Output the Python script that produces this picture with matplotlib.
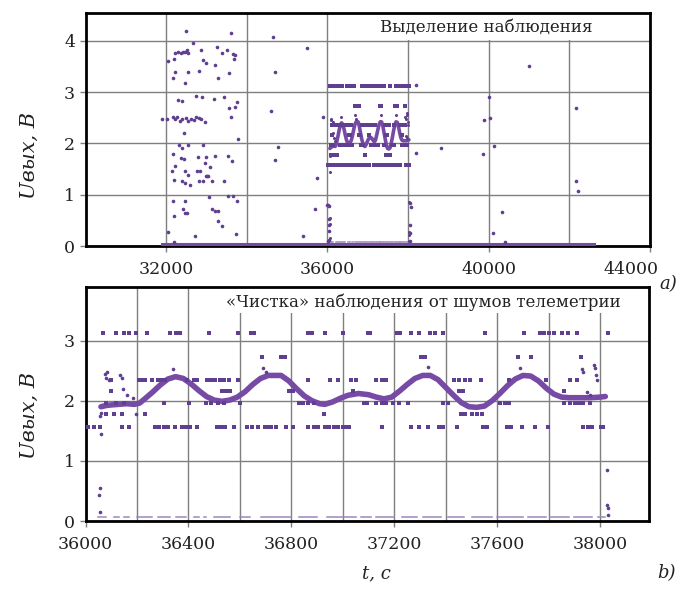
import matplotlib
matplotlib.use("Agg")
import matplotlib.pyplot as plt
from matplotlib.patches import Rectangle
from matplotlib.transforms import ScaledTranslation
import numpy as np

# --- cleaned observation window, 36000..38200 s -------------------------
# smooth signal (the dense band)
curve_t = [36060, 36080, 36100, 36130, 36160, 36190, 36210, 36230, 36260, 36290,
           36320, 36350, 36380, 36410, 36440, 36470, 36500, 36530, 36560, 36590,
           36620, 36650, 36680, 36710, 36740, 36760, 36790, 36820, 36850, 36880,
           36910, 36930, 36960, 36990, 37020, 37060, 37100, 37130, 37160, 37190,
           37220, 37250, 37280, 37310, 37340, 37370, 37400, 37430, 37460, 37490,
           37520, 37550, 37580, 37610, 37640, 37670, 37700, 37730, 37760, 37790,
           37820, 37850, 37880, 37920, 37960, 38000, 38020]
curve_u = [1.90, 1.92, 1.93, 1.94, 1.95, 1.94, 1.96, 2.03, 2.14, 2.26,
           2.36, 2.40, 2.37, 2.28, 2.17, 2.07, 2.01, 1.99, 2.01, 2.06,
           2.15, 2.27, 2.37, 2.42, 2.42, 2.42, 2.33, 2.20, 2.08, 2.00,
           1.95, 1.94, 1.98, 2.04, 2.09, 2.12, 2.10, 2.06, 2.03, 2.06,
           2.16, 2.27, 2.37, 2.42, 2.42, 2.35, 2.22, 2.09, 1.97, 1.90,
           1.89, 1.91, 2.00, 2.12, 2.25, 2.36, 2.42, 2.41, 2.33, 2.21,
           2.11, 2.06, 2.05, 2.05, 2.05, 2.06, 2.07]

# telemetry noise sitting on quantised levels
lvl_312_t = [36066, 36117, 36148, 36168, 36196, 36238, 36327, 36352, 36369, 36480,
             36591, 36642, 36656, 36863, 36880, 36931, 36999, 37098, 37105, 37212,
             37224, 37263, 37297, 37340, 37357, 37391, 37552, 37705, 37765, 37782,
             37802, 37819, 37850, 37875, 37910, 38029]
lvl_273_t = [36684, 36761, 36774, 37305, 37319, 37680, 37731, 37927]
lvl_235_t = [36100, 36208, 36220, 36233, 36259, 36281, 36293, 36310, 36395, 36420,
             36435, 36471, 36488, 36505, 36523, 36540, 36557, 36591, 36863, 36951,
             36982, 37033, 37050, 37127, 37152, 37169, 37433, 37450, 37476, 37493,
             37535, 37646, 37791, 37884, 37910]
lvl_216_t = [36100, 36530, 36545, 36560, 36790, 36805, 37040, 37450, 37465, 37860]
lvl_196_t = [36080, 36117, 36148, 36305, 36403, 36468, 36488, 36514, 36540, 36599,
             36829, 36846, 36863, 36888, 37084, 37093, 37127, 37152, 37169, 37195,
             37220, 37254, 37391, 37408, 37612, 37629, 37646, 37859, 37884, 37901,
             37918, 37935, 37961]
lvl_178_t = [36080, 36110, 36140, 36230, 36925, 37460, 37475, 37500, 37520, 37540]
lvl_157_t = [36010, 36032, 36058, 36143, 36168, 36270, 36287, 36305, 36322, 36347,
             36373, 36390, 36407, 36432, 36509, 36526, 36543, 36577, 36628, 36645,
             36671, 36696, 36713, 36722, 36739, 36781, 36807, 36863, 36888, 36905,
             36931, 36948, 36965, 36982, 36999, 37016, 37025, 37152, 37263, 37297,
             37331, 37374, 37391, 37442, 37544, 37561, 37637, 37654, 37697, 37748,
             37799, 37935, 37952, 37969, 38003, 38012]
levels = [(3.12, lvl_312_t), (2.73, lvl_273_t), (2.35, lvl_235_t), (2.16, lvl_216_t),
          (1.96, lvl_196_t), (1.78, lvl_178_t), (1.57, lvl_157_t)]

# single outliers inside the window
odd_t = [36052, 36057, 36055, 36060, 36058, 36062, 36075, 36082, 36078, 36090,
         36135, 36140, 36145, 36160, 36185, 36195, 36340, 36690, 36700, 37330,
         37690, 37935, 37930, 37975, 37980, 37985, 37988, 37950, 37960, 38025,
         38028, 38030, 38030]
odd_u = [0.43, 0.55, 0.15, 1.44, 1.75, 1.80, 2.45, 2.48, 2.38, 2.35,
         2.42, 2.38, 2.20, 2.10, 2.05, 1.78, 2.52, 2.55, 2.48, 2.56,
         2.55, 2.48, 2.52, 2.60, 2.55, 2.42, 2.35, 2.15, 2.10, 0.85,
         0.27, 0.22, 0.10]

# near-zero dropouts, drawn as short dashes
zero_u = 0.07
zero_segs = [(36050, 36080), (36110, 36130), (36150, 36170), (36200, 36260), (36280, 36330),
             (36350, 36390), (36420, 36440), (36460, 36470), (36500, 36560), (36600, 36640),
             (36680, 36800), (36830, 36900), (36940, 37050), (37070, 37110), (37130, 37200),
             (37230, 37290), (37310, 37380), (37410, 37470), (37500, 37580), (37600, 37700),
             (37720, 37790), (37810, 37880), (37900, 37970), (37990, 38020)]

# --- full pass, points outside the window -------------------------------
pass_t = [32500, 33608, 32667, 32208, 32292, 32358, 32417, 32475, 32525, 32542,
          32042, 32183, 32875, 33250, 33375, 33500, 33667, 33708, 33683, 32917,
          32975, 33208, 32208, 32167, 32542, 32808, 32458, 33292, 33558, 32292,
          32392, 32750, 32900, 33183, 33425, 33767, 33567, 33708, 33617, 31892,
          32025, 32167, 32208, 32267, 32333, 32392, 32500, 32542, 32625, 32692,
          32750, 32808, 32875, 32958, 32442, 33792, 32308, 32392, 32542, 32917,
          32167, 32375, 32433, 32792, 32983, 33208, 33525, 33642, 32225, 33083,
          32958, 32833, 32142, 32458, 32542, 32775, 33000, 33042, 32192, 32392,
          32458, 32583, 32808, 32917, 32975, 33142, 33433, 32167, 32475, 33067,
          33525, 33667, 33767, 32417, 32475, 32525, 33125, 33208, 33275, 32183,
          33292, 33375, 32042, 32708, 33733, 32192,
          34652, 35489, 34696, 34598, 34783, 34696, 35729, 35686, 35381, 35881,
          36000, 36020, 36030, 36040, 36040, 36030, 36040, 36010, 38207, 38207,
          38826, 38050, 38060, 38050, 38050, 38040, 40000, 39892, 40022, 39859,
          40130, 40326, 40109, 40413, 41000, 42152, 42152, 42207]
pass_u = [4.18, 4.15, 3.95, 3.77, 3.79, 3.77, 3.78, 3.79, 3.82, 3.77,
          3.61, 3.65, 3.82, 3.87, 3.77, 3.82, 3.75, 3.73, 3.65, 3.63,
          3.56, 3.52, 3.39, 3.28, 3.39, 3.41, 3.17, 3.28, 3.37, 2.85,
          2.82, 2.92, 2.90, 2.86, 2.91, 2.81, 2.68, 2.70, 2.51, 2.48,
          2.48, 2.51, 2.48, 2.52, 2.43, 2.47, 2.50, 2.43, 2.47, 2.45,
          2.52, 2.50, 2.48, 2.41, 2.21, 2.09, 1.96, 1.91, 1.96, 1.96,
          1.80, 1.72, 1.70, 1.74, 1.74, 1.75, 1.75, 1.65, 1.55, 1.54,
          1.61, 1.46, 1.46, 1.47, 1.39, 1.47, 1.37, 1.37, 1.28, 1.26,
          1.23, 1.19, 1.27, 1.27, 1.36, 1.26, 1.26, 0.87, 0.87, 0.95,
          0.98, 0.97, 0.88, 0.72, 0.65, 0.64, 0.72, 0.69, 0.69, 0.59,
          0.48, 0.39, 0.28, 0.20, 0.23, 0.07,
          4.07, 3.86, 3.40, 2.64, 1.93, 1.68, 1.33, 0.72, 0.20, 2.51,
          0.80, 0.80, 0.78, 0.52, 0.40, 0.30, 0.12, 0.10, 3.14, 1.81,
          1.91, 0.83, 0.77, 0.40, 0.25, 0.10, 2.91, 2.46, 2.49, 1.79,
          1.94, 0.66, 0.25, 0.07, 3.50, 2.69, 1.27, 1.07]
pass_base_t = [31900, 42600]
pass_base_u = [0.03, 0.03]

DOT = "#5f3f8f"
BAND = "#774aa5"
FAINT = "#9c86c2"
GRID = "#7f7f7f"
INK = "#222222"

plt.rcParams["font.family"] = ["DejaVu Serif"]


def style_axes(ax):
    ax.set_axisbelow(True)
    ax.grid(True, which="both", color=GRID, linewidth=1.0)
    for s in ax.spines.values():
        s.set_linewidth(2.0)
        s.set_color("black")
    ax.tick_params(which="major", direction="out", length=4, width=1,
                   color=GRID, labelsize=12.5, labelcolor=INK)
    ax.tick_params(axis="x", which="major", pad=7)
    ax.tick_params(which="minor", length=0)


def draw_window(ax, ms, band_lw):
    ax.plot(curve_t, curve_u, color=BAND, linewidth=band_lw, solid_capstyle="round",
            solid_joinstyle="round", zorder=3)
    for u, ts in levels:
        ax.plot(ts, [u] * len(ts), linestyle="none", marker="s", markersize=ms,
                color=DOT, markeredgewidth=0, zorder=4)
    ax.plot(odd_t, odd_u, linestyle="none", marker="o", markersize=ms,
            color=DOT, markeredgewidth=0, zorder=4)
    for a, b in zero_segs:
        ax.plot([a, b], [zero_u, zero_u], color=FAINT, linewidth=1.1, zorder=3)


fig = plt.figure(figsize=(6.81, 5.89), dpi=100)
ax1 = fig.add_axes([0.1256, 0.5823, 0.8290, 0.3956])
ax2 = fig.add_axes([0.1256, 0.1154, 0.8275, 0.3973])

# (a) whole pass
style_axes(ax1)
ax1.plot(pass_base_t, pass_base_u, color=BAND, linewidth=2.2, zorder=3)
ax1.plot(pass_t, pass_u, linestyle="none", marker="o", markersize=2.6,
         color=DOT, markeredgewidth=0, zorder=4)
draw_window(ax1, 2.2, 2.6)
ax1.set_xlim(30000, 44000)
ax1.set_ylim(0, 4.54)
ax1.set_xticks([32000, 36000, 40000, 44000])
ax1.set_xticks([34000, 38000, 42000], minor=True)
ax1.set_yticks([0, 1, 2, 3, 4])
# last x label sits left of the corner so the panel tag fits beside it
last = ax1.get_xticklabels()[-1]
last.set_horizontalalignment("right")
last.set_transform(last.get_transform() + ScaledTranslation(6 / 72, 0, fig.dpi_scale_trans))
ax1.add_patch(Rectangle((0.504, 4.02 / 4.54), 0.496, 1 - 4.02 / 4.54,
                        transform=ax1.transAxes, facecolor="white",
                        edgecolor="none", zorder=1))
ax1.text(0.71, 4.26, "Выделение наблюдения", transform=ax1.get_yaxis_transform(),
         ha="center", va="center", fontsize=12, color=INK, zorder=5)
ax1.set_ylabel("Uвых, B", fontsize=15, style="italic", color=INK)
ax1.yaxis.set_label_coords(-0.082, 0.39)
fig.text(0.981, 0.517, "a)", fontsize=13, style="italic", ha="center", va="center",
         color=INK)

# (b) cleaned window
style_axes(ax2)
draw_window(ax2, 2.6, 4.0)
ax2.set_xlim(36000, 38190)
ax2.set_ylim(0, 3.89)
ax2.set_xticks(np.arange(36000, 38001, 400))
ax2.set_xticks(np.arange(36200, 38001, 400), minor=True)
ax2.set_yticks([0, 1, 2, 3])
ax2.add_patch(Rectangle((0.238, 3.45 / 3.89), 0.762, 1 - 3.45 / 3.89,
                        transform=ax2.transAxes, facecolor="white",
                        edgecolor="none", zorder=1))
ax2.text(0.6, 3.64, "«Чистка» наблюдения от шумов телеметрии",
         transform=ax2.get_yaxis_transform(), ha="center", va="center",
         fontsize=12, color=INK, zorder=5)
ax2.set_ylabel("Uвых, B", fontsize=15, style="italic", color=INK)
ax2.yaxis.set_label_coords(-0.082, 0.45)
fig.text(0.553, 0.027, "t, c", fontsize=13, style="italic", ha="center", va="center",
         color=INK)
fig.text(0.978, 0.027, "b)", fontsize=13, style="italic", ha="center", va="center",
         color=INK)

fig.savefig("out.png", dpi=100)
